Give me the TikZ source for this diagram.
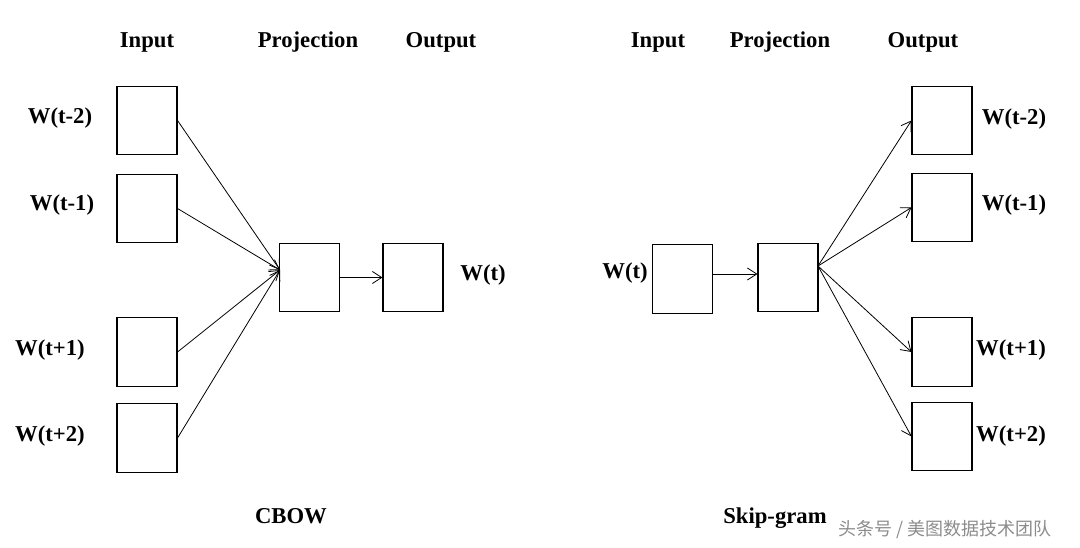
\documentclass[tikz,border=0pt]{standalone}
\usepackage{fontspec}
\setmainfont{Liberation Serif}
\newfontfamily\cjk{Noto Sans CJK SC}
\usetikzlibrary{arrows.meta}
\begin{document}
\begin{tikzpicture}[x=0.75pt,y=-0.75pt,
  box/.style={draw,line width=0.8pt,minimum width=45pt,minimum height=51.5pt,inner sep=0pt},
  lbl/.style={font=\bfseries\fontsize{17}{19}\selectfont},
  arr/.style={-{Straight Barb[length=7pt,width=9pt]},line width=0.6pt}]
\useasboundingbox (0,0) rectangle (1080,548);
% CBOW
\node[lbl] (h1) at (147,42) {Input};
\node[lbl] (h2) at (308,42) {Projection};
\node[lbl] (h3) at (441,42) {Output};
\node[box] (a1) at (147,120.5) {};
\node[box] (a2) at (147,208.5) {};
\node[box] (a3) at (147,352) {};
\node[box] (a4) at (147,438) {};
\node[box] (p) at (309.5,277.5) {};
\node[box] (o) at (413,277.5) {};
\node[lbl] (l1) at (60,118) {W(t-2)};
\node[lbl] (l2) at (62,205) {W(t-1)};
\node[lbl] (l3) at (50,350) {W(t+1)};
\node[lbl] (l4) at (50,436) {W(t+2)};
\node[lbl] (l5) at (483,275) {W(t)};
\coordinate (pin) at (280,270);
\foreach \n in {a1,a2,a3,a4} \draw[arr] (\n.east) -- (pin);
\draw[arr] (p.east) -- (o.west);
\node[lbl] (c) at (291,516) {CBOW};
% Skip-gram
\node[lbl] (g1) at (658,42) {Input};
\node[lbl] (g2) at (780,42) {Projection};
\node[lbl] (g3) at (923,42) {Output};
\node[box] (i) at (682.5,279) {};
\node[box] (q) at (788,277.5) {};
\node[box] (b1) at (942,120.5) {};
\node[box] (b2) at (942,207.5) {};
\node[box] (b3) at (942,352) {};
\node[box] (b4) at (942,436.5) {};
\node[lbl] (r1) at (1014,119) {W(t-2)};
\node[lbl] (r2) at (1014,205) {W(t-1)};
\node[lbl] (r3) at (1011,350) {W(t+1)};
\node[lbl] (r4) at (1011,436) {W(t+2)};
\node[lbl] (r5) at (625,273) {W(t)};
\coordinate (qout) at (818,266);
\draw[arr] (i.east |- 0,274) -- (q.west |- 0,274);
\foreach \n in {b1,b2,b3,b4} \draw[arr] (qout) -- (\n.west);
\node[lbl] (s) at (775,518) {Skip-gram};
\node[text=black!45,font=\cjk\fontsize{13.5}{15}\selectfont] (w) at (945,530) {头条号 / 美图数据技术团队};
\end{tikzpicture}
\end{document}
